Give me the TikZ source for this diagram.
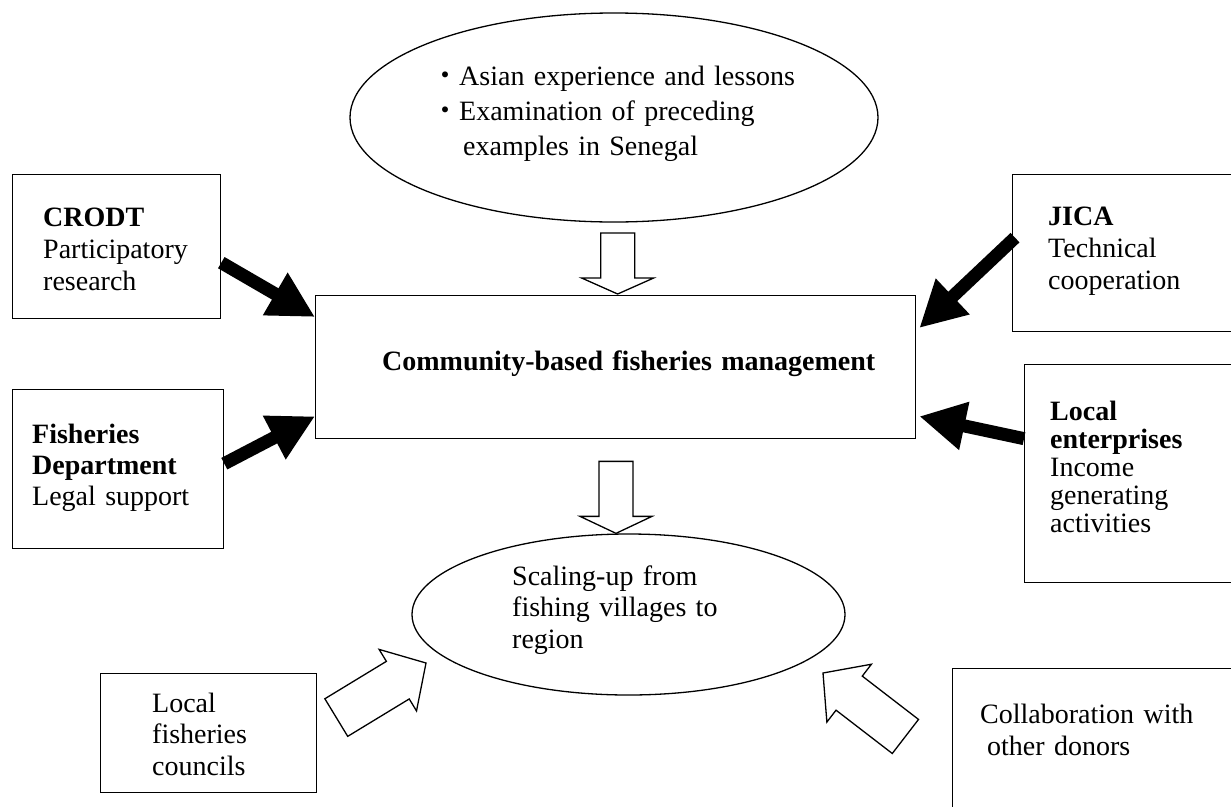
\documentclass[tikz,border=0pt]{standalone}
\usepackage{fontspec}
\setmainfont{Liberation Serif}
\newfontfamily\cjk{Noto Sans CJK JP}
\usetikzlibrary{shapes.geometric,arrows.meta}
\tikzset{
  box/.style={draw, line width=1.3pt, rectangle, inner sep=0pt, anchor=north west},
  oval/.style={draw, line width=1.3pt, ellipse, inner sep=0pt},
  txt/.style={anchor=base west, inner sep=0pt, text width=700pt, align=left},
  bigarrow/.style={line width=13pt, -{Triangle[length=46pt,width=46pt]}},
  hollow/.style={draw, fill=white, line width=1.3pt, line join=miter}
}
\begin{document}
\begin{tikzpicture}[x=1pt,y=-1pt]
\useasboundingbox (0,0) rectangle (1231,806);
\clip (0,0) rectangle (1231,806);
\fill[white] (0,0) rectangle (1231,806);

% ellipses
\node[oval, minimum width=528pt, minimum height=209pt] (exp) at (614,117.5) {};
\node[oval, minimum width=433pt, minimum height=161pt] (scale) at (628.5,614.5) {};

% boxes
\node[box, minimum width=600pt, minimum height=143pt] (cbm) at (315,295) {};
\node[box, minimum width=208pt, minimum height=144pt] (crodt) at (12,174) {};
\node[box, minimum width=211pt, minimum height=159pt] (fish) at (12,389) {};
\node[box, minimum width=230pt, minimum height=157pt] (jica) at (1012,174) {};
\node[box, minimum width=220pt, minimum height=218pt] (ent) at (1024,364) {};
\node[box, minimum width=216pt, minimum height=119pt] (lfc) at (100,673) {};
\node[box, minimum width=290pt, minimum height=150pt] (collab) at (952,668) {};

% texts
\node[txt, font=\fontsize{28}{35}\selectfont] (exptxt) at (431,85)
  {{\cjk ・}Asian experience and lessons\\{\cjk ・}Examination of preceding\\\hspace*{32pt}examples in Senegal};
\node[txt, font=\fontsize{28}{32}\selectfont] (cbmtxt) at (382,370)
  {\textbf{Community-based fisheries management}};
\node[txt, font=\fontsize{28}{32}\selectfont] (crodttxt) at (43,226)
  {\textbf{CRODT}\\Participatory\\research};
\node[txt, font=\fontsize{28}{31}\selectfont] (fishtxt) at (32,443)
  {\textbf{Fisheries}\\\textbf{Department}\\Legal support};
\node[txt, font=\fontsize{28}{32}\selectfont] (jicatxt) at (1048,225)
  {\textbf{JICA}\\Technical\\cooperation};
\node[txt, font=\fontsize{28}{28}\selectfont] (enttxt) at (1050,420)
  {\textbf{Local}\\\textbf{enterprises}\\Income\\generating\\activities};
\node[txt, font=\fontsize{28}{31.5}\selectfont] (scaletxt) at (512,585)
  {Scaling-up from\\fishing villages to\\region};
\node[txt, font=\fontsize{28}{31.5}\selectfont] (lfctxt) at (152,712)
  {Local\\fisheries\\councils};
\node[txt, font=\fontsize{28}{32}\selectfont] (collabtxt) at (980,723)
  {Collaboration with\\\hspace*{7pt}other donors};

% black arrows
\draw[bigarrow] ([yshift=-16pt]crodt.east) -- ([yshift=-22pt]cbm.north west);
\draw[bigarrow] ([yshift=5.5pt]fish.east) -- ([yshift=23pt]cbm.south west);
\draw[bigarrow] ([yshift=15.5pt,xshift=3pt]jica.west) -- ([yshift=-33pt,xshift=3pt]cbm.north east);
\draw[bigarrow] ([yshift=35pt]ent.west) -- ([yshift=23pt,xshift=3pt]cbm.south east);

% hollow block arrows
\coordinate (t1) at ([xshift=2pt,yshift=1pt]cbm.north);
\coordinate (t2) at ([xshift=-12.5pt]scale.north);
\coordinate (t3) at (426,663);
\coordinate (t4) at (823,673);
\draw[hollow, shift={(t1)}] (0,0) -- (-36,-16) -- (-17,-16) -- (-17,-61) -- (17,-61) -- (17,-16) -- (36,-16) -- cycle;
\draw[hollow, shift={(t2)}] (0,0) -- (-36,-17) -- (-17,-17) -- (-17,-72) -- (17,-72) -- (17,-17) -- (36,-17) -- cycle;
\draw[hollow, shift={(t3)}, rotate=31.3] (0,0) -- (-33,-36) -- (-33,-22) -- (-105,-22) -- (-105,22) -- (-33,22) -- (-33,36) -- cycle;
\draw[hollow, shift={(t4)}, rotate=142.4] (0,0) -- (-33,-36.5) -- (-33,-21.5) -- (-104,-21.5) -- (-104,21.5) -- (-33,21.5) -- (-33,36.5) -- cycle;
\end{tikzpicture}
\end{document}
